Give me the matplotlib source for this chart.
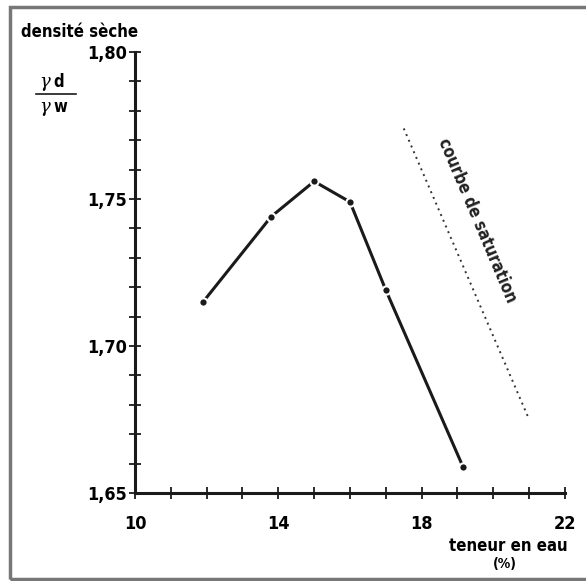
import matplotlib.pyplot as plt
from matplotlib.patches import Rectangle
from matplotlib.lines import Line2D

# courbe Proctor
teneur = [11.9, 13.8, 15.0, 16.0, 17.0, 19.15]
densite = [1.715, 1.744, 1.756, 1.749, 1.719, 1.659]

# courbe de saturation (extremites)
sat_x = [17.5, 21.0]
sat_y = [1.774, 1.675]

xticks = [10, 14, 18, 22]
yticks = [1.65, 1.70, 1.75, 1.80]
ylabels = ["1,65", "1,70", "1,75", "1,80"]

W, H = 586, 581
fig = plt.figure(figsize=(W / 100, H / 100), dpi=100)
ax = fig.add_axes([135 / W, 1 - 493 / H, 430 / W, 441 / H])

fnt = dict(family="DejaVu Sans", fontweight="bold", fontstretch="condensed")

ax.plot(teneur, densite, color="#1a1a1a", lw=2.2, marker="o", ms=6,
        mfc="#1a1a1a", mec="white", mew=1.5, solid_capstyle="round")
ax.plot(sat_x, sat_y, color="#333333", lw=1.4, ls=(0, (1, 2.2)))

ax.set_xlim(10, 22)
ax.set_ylim(1.65, 1.80)
for s in ["top", "right"]:
    ax.spines[s].set_visible(False)
for s in ["left", "bottom"]:
    ax.spines[s].set_linewidth(2.2)
    ax.spines[s].set_color("#1a1a1a")

ax.set_xticks(xticks)
ax.set_xticks(range(10, 23), minor=True)
ax.set_xticklabels([str(t) for t in xticks], fontsize=13, **fnt)
ax.set_yticks(yticks)
ax.set_yticks([1.65 + 0.01 * i for i in range(16)], minor=True)
ax.set_yticklabels(ylabels, fontsize=13, **fnt)
ax.tick_params(which="both", direction="inout", length=8, width=1.3,
               color="#1a1a1a")
ax.tick_params(axis="x", pad=12)
ax.tick_params(axis="y", pad=2)

fig.text(477 / W, 1 - 220 / H, "courbe de saturation", rotation=-67,
         ha="center", va="center", fontsize=12, color="#222222", **fnt)

fig.text(21 / W, 1 - 32 / H, "densité sèche", ha="left", va="center",
         fontsize=12, **fnt)
# fraction gamma d / gamma w
fig.text(50 / W, 1 - 82 / H, "γ", ha="right", va="center", fontsize=13,
         family="DejaVu Serif", style="italic")
fig.text(53 / W, 1 - 82 / H, "d", ha="left", va="center", fontsize=12, **fnt)
fig.text(50 / W, 1 - 107 / H, "γ", ha="right", va="center", fontsize=13,
         family="DejaVu Serif", style="italic")
fig.text(53 / W, 1 - 107 / H, "w", ha="left", va="center", fontsize=12, **fnt)
fig.add_artist(Line2D([36 / W, 76 / W], [1 - 94 / H, 1 - 94 / H],
                      color="#1a1a1a", lw=1.2))

fig.text(508 / W, 1 - 546 / H, "teneur en eau", ha="center", va="center",
         fontsize=12, **fnt)
fig.text(505 / W, 1 - 564 / H, "(%)", ha="center", va="center",
         fontsize=10, **fnt)

fig.add_artist(Rectangle((10 / W, 1 - 579 / H), 600 / W, 572 / H,
                         fill=False, ec="#777777", lw=2.5))

fig.savefig("out.png", dpi=100)
